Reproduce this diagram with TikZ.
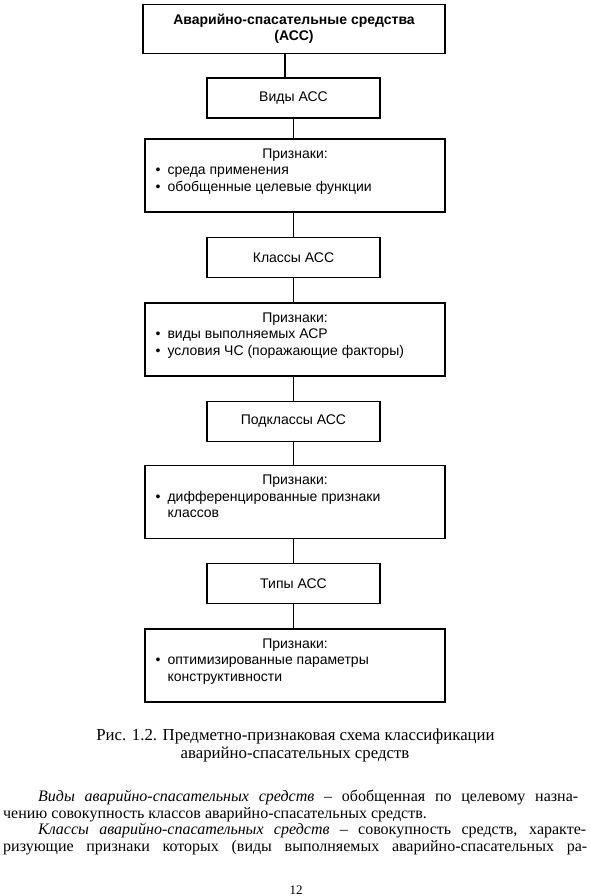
\documentclass[tikz,border=0pt]{standalone}
\usepackage{fontspec}
\setmainfont{Liberation Serif}
\newfontfamily\diag{Liberation Sans}
\begin{document}
\begin{tikzpicture}[x=1pt,y=-1pt,
  box/.style={draw, line width=1.3pt, inner sep=0pt},
  small/.style={box, minimum width=173pt, minimum height=40pt, font=\diag\fontsize{14}{16.5}\selectfont},
  feat/.style={box, minimum width=300pt, minimum height=73pt},
  link/.style={line width=1.3pt},
  dtext/.style={font=\diag\fontsize{14}{16.5}\selectfont, inner sep=0pt},
  head/.style={dtext, anchor=base},
  items/.style={dtext, anchor=base west},
  body/.style={font=\fontsize{16}{18}\selectfont, inner sep=0pt, anchor=base west},
  capt/.style={font=\fontsize{16.8}{18}\selectfont, inner sep=0pt, anchor=base}]
\useasboundingbox[fill=white] (0,0) rectangle (591,896);
\newcommand\itm{\makebox[12pt][l]{•}}
\newcommand\ind{\hspace*{12pt}}
% boxes
\node[box, line width=1.9pt, minimum width=302pt, minimum height=49pt, align=center,
      font=\diag\bfseries\fontsize{14}{16}\selectfont] (top) at (294,29)
  {Аварийно-спасательные средства\\(АСС)};
\node[small] (vid) at (293.5,98) {Виды АСС};
\node[feat] (p1) at (295,175.5) {};
\node[small] (kl) at (293.5,257.5) {Классы АСС};
\node[feat] (p2) at (295,339.5) {};
\node[small] (pk) at (293.5,421.5) {Подклассы АСС};
\node[feat] (p3) at (295,502) {};
\node[small] (tp) at (293.5,583.5) {Типы АСС};
\node[feat] (p4) at (295,665.5) {};
% texts in feature boxes
\node[head] (h1) at ([yshift=-20.5pt]p1.north) {Признаки:};
\node[items] (i1) at ([xshift=11pt,yshift=-36.5pt]p1.north west)
  {\begin{tabular}[t]{@{}l@{}}\itm среда применения\\ \itm обобщенные целевые функции\end{tabular}};
\node[head] (h2) at ([yshift=-20.5pt]p2.north) {Признаки:};
\node[items] (i2) at ([xshift=11pt,yshift=-36.5pt]p2.north west)
  {\begin{tabular}[t]{@{}l@{}}\itm виды выполняемых АСР\\ \itm условия ЧС (поражающие факторы)\end{tabular}};
\node[head] (h3) at ([yshift=-20pt]p3.north) {Признаки:};
\node[items] (i3) at ([xshift=11pt,yshift=-36.5pt]p3.north west)
  {\begin{tabular}[t]{@{}l@{}}\itm дифференцированные признаки\\ \ind классов\end{tabular}};
\node[head] (h4) at ([yshift=-20.5pt]p4.north) {Признаки:};
\node[items] (i4) at ([xshift=11pt,yshift=-36.5pt]p4.north west)
  {\begin{tabular}[t]{@{}l@{}}\itm оптимизированные параметры\\ \ind конструктивности\end{tabular}};
% connectors
\draw[link] ([xshift=-9pt]top.south) -- ([xshift=-8.5pt]vid.north);
\draw[link] (vid.south) -- (vid.south |- p1.north);
\draw[link] (kl.north |- p1.south) -- (kl.north);
\draw[link] (kl.south) -- (kl.south |- p2.north);
\draw[link] (pk.north |- p2.south) -- (pk.north);
\draw[link] (pk.south) -- (pk.south |- p3.north);
\draw[link] (tp.north |- p3.south) -- (tp.north);
\draw[link] (tp.south) -- (tp.south |- p4.north);
% caption
\node[capt] (c1) at (295.5,740) {Рис. 1.2. Предметно-признаковая схема классификации};
\node[capt] (c2) at (295,758) {аварийно-спасательных средств};
% body text
\node[body] (l1) at (38,801) {\makebox[540pt][s]{\textit{Виды аварийно-спасательных средств} – обобщенная по целевому назна-}};
\node[body] (l2) at (3,818) {чению совокупность классов аварийно-спасательных средств.};
\node[body] (l3) at (38,834) {\makebox[548pt][s]{\textit{Классы аварийно-спасательных средств} – совокупность средств, характе-}};
\node[body] (l4) at (3,851) {\makebox[584pt][s]{ризующие признаки которых (виды выполняемых аварийно-спасательных ра-}};
\node[capt, font=\fontsize{13}{15}\selectfont] (pg) at (296,894) {12};
\end{tikzpicture}
\end{document}
